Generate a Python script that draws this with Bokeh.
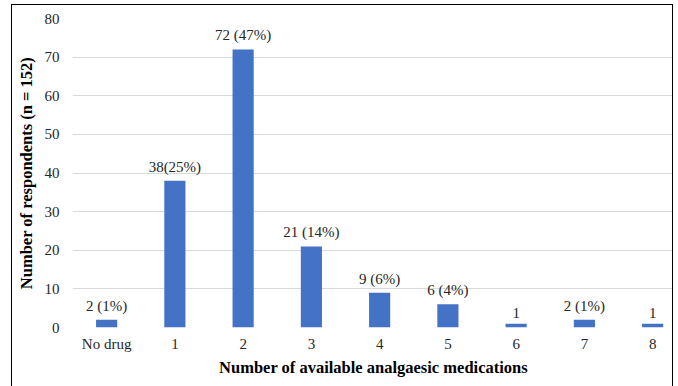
from bokeh.plotting import figure
from bokeh.models import ColumnDataSource, Range1d, FixedTicker, LabelSet
from bokeh.embed import file_html
from bokeh.resources import INLINE

categories = ["No drug", "1", "2", "3", "4", "5", "6", "7", "8"]
counts = [2, 38, 72, 21, 9, 6, 1, 2, 1]
bar_labels = ["2 (1%)", "38(25%)", "72 (47%)", "21 (14%)", "9 (6%)", "6 (4%)", "1", "2 (1%)", "1"]
y_ticks = [0, 10, 20, 30, 40, 50, 60, 70, 80]

FONT = "Liberation Serif"
positions = list(range(len(categories)))
src = ColumnDataSource(dict(x=positions, top=counts, label=bar_labels))

p = figure(width=662, height=392, output_backend="svg", toolbar_location=None,
           x_range=Range1d(-0.5, 8.32), y_range=Range1d(0, 80),
           min_border_left=60, min_border_right=0, min_border_top=13, min_border_bottom=70,
           margin=(4, 0, 0, 11))
p.styles = {"border": "1.5px solid black"}
p.outline_line_color = None
p.background_fill_color = "white"
p.border_fill_color = "white"

p.vbar(x="x", top="top", width=0.31, source=src, fill_color="#4472C4", line_color=None)

labels = LabelSet(x="x", y="top", text="label", source=src, text_align="center",
                  text_baseline="bottom", y_offset=6, text_font=FONT,
                  text_font_size="15px", text_color="#262626")
p.add_layout(labels)

p.xaxis.ticker = FixedTicker(ticks=positions)
p.xaxis.major_label_overrides = {i: c for i, c in enumerate(categories)}
p.yaxis.ticker = FixedTicker(ticks=y_ticks)

for ax in (p.xaxis, p.yaxis):
    ax.axis_line_color = None
    ax.major_tick_line_color = None
    ax.minor_tick_line_color = None
    ax.major_tick_out = 0
    ax.major_tick_in = 0
    ax.minor_tick_out = 0
    ax.major_label_text_font = FONT
    ax.major_label_text_font_size = "15px"
    ax.major_label_text_color = "#262626"
    ax.axis_label_text_font = FONT
    ax.axis_label_text_font_style = "bold"
    ax.axis_label_text_font_size = "16.5px"
    ax.axis_label_text_color = "black"

p.yaxis.major_label_standoff = 13
p.xaxis.major_label_standoff = 8
p.xaxis.axis_label = "Number of available analgaesic medications"
p.yaxis.axis_label = "Number of respondents (n = 152)"
p.xaxis.axis_label_standoff = 3
p.yaxis.axis_label_standoff = 6

p.xgrid.grid_line_color = None
p.ygrid.grid_line_color = "#D9D9D9"
p.ygrid.grid_line_width = 1.2

open("out.html", "w").write(file_html(p, INLINE))
